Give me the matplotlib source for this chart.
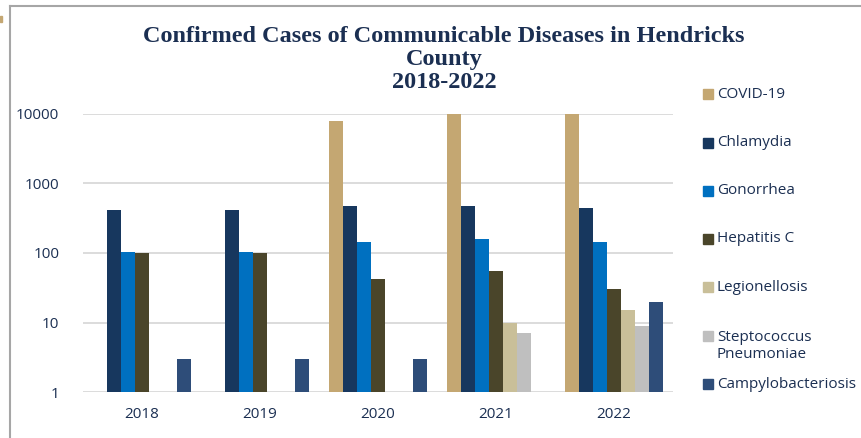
import numpy as np
import matplotlib.pyplot as plt
from matplotlib.patches import Rectangle
from matplotlib.lines import Line2D

years = ['2018', '2019', '2020', '2021', '2022']
diseases = ['COVID-19', 'Chlamydia', 'Gonorrhea', 'Hepatitis C', 'Legionellosis',
            'Steptococcus\nPneumoniae', 'Campylobacteriosis']
title_lines = ['Confirmed Cases of Communicable Diseases in Hendricks', 'County', '2018-2022']
nan = np.nan
covid = [nan, nan, 8000, 17000, 30000]
chlamydia = [415, 415, 475, 480, 450]
gonorrhea = [103, 103, 145, 157, 145]
hepatitis_c = [100, 100, 42, 55, 30]
legionellosis = [nan, nan, nan, 10, 15]
strep = [nan, nan, nan, 7, 9]
campylo = [3, 3, 3, nan, 20]
series = [covid, chlamydia, gonorrhea, hepatitis_c, legionellosis, strep, campylo]
colors = ['#C4A772', '#17375E', '#0070C0', '#4A452A', '#C9BF99', '#BFBFBF', '#2E4D79']

W, H = 862, 438
navy = '#1B2F52'
plt.rcParams['font.family'] = ['Open Sans', 'DejaVu Sans']

fig = plt.figure(figsize=(W / 100, H / 100), dpi=100)
ax = fig.add_axes([83 / W, 1 - 392 / H, 590 / W, 278 / H])

x = np.arange(len(years))
w = 0.83 / len(series)
for i, vals in enumerate(series):
    ax.bar(x + (i - 3) * w, vals, width=w, color=colors[i], edgecolor='none', zorder=3)

ax.set_yscale('log')
ax.set_ylim(1, 10000)
ax.set_xlim(-0.5, len(years) - 0.5)
ax.set_yticks([1, 10, 100, 1000, 10000])
ax.set_yticklabels(['1', '10', '100', '1000', '10000'])
ax.minorticks_off()
ax.set_xticks(x)
ax.set_xticklabels(years)
ax.tick_params(length=0, labelsize=11, labelcolor=navy)
ax.tick_params(axis='y', pad=17)
ax.tick_params(axis='x', pad=11)
ax.grid(axis='y', color='#D9D9D9', linewidth=1.3, zorder=0)
for s in ax.spines.values():
    s.set_visible(False)

# title, one text per line (baselines)
for line, yy in zip(title_lines, [41.7, 65, 88.3]):
    fig.text(444 / W, 1 - yy / H, line, ha='center', va='baseline', fontsize=17.5,
             fontweight='bold', color=navy, family='Liberation Serif')

# legend
leg_y = [94, 142.7, 190.7, 238.7, 287.3, 335.7, 384]
for name, c, yy in zip(diseases, colors, leg_y):
    fig.patches.append(Rectangle((703 / W, 1 - (yy + 5) / H), 10 / W, 10 / H,
                                 color=c, transform=fig.transFigure))
    nlines = name.count('\n') + 1
    ty = yy + (nlines - 1) * 10.7
    fig.text(717 / W, 1 - ty / H, name, ha='left', va='center', fontsize=11,
             color=navy, linespacing=1.2)

# outer frame
fig.lines.append(Line2D([10.5 / W, 1], [1 - 5.5 / H] * 2, color='#A6A6A6', lw=1.5,
                        transform=fig.transFigure))
fig.lines.append(Line2D([10.5 / W] * 2, [0, 1 - 5.5 / H], color='#A6A6A6', lw=1.5,
                        transform=fig.transFigure))
fig.patches.append(Rectangle((0, 1 - 22 / H), 2 / W, 6 / H, color='#C4A772',
                             transform=fig.transFigure))

fig.savefig('out.png', dpi=100)
